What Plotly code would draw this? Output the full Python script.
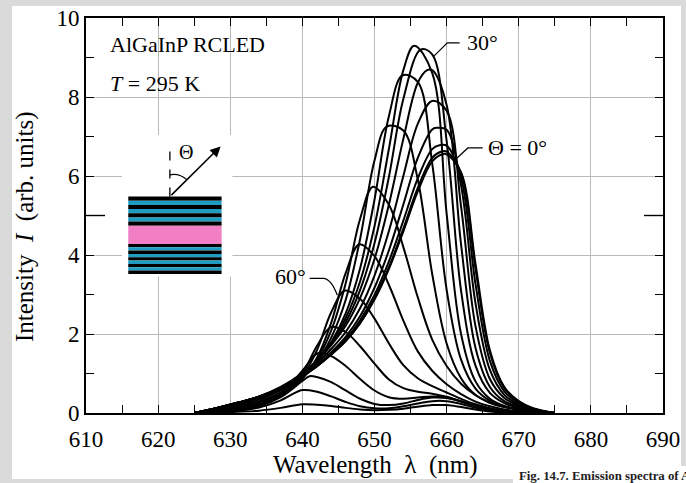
import plotly.graph_objects as go

# ---------------- data ----------------
wavelength_grid = [625, 628, 631, 634, 637, 640, 642, 644, 646, 648, 650, 652,
                   654, 656, 658, 660, 662, 664, 666, 668, 670, 672, 675]

angles = [0, 5, 10, 15, 20, 25, 30, 35, 40, 45, 50, 55, 60, 65, 70, 75, 80, 85]

peak_wavelength = [659.4, 659.3, 659.0, 658.6, 658.0, 657.3, 656.4, 655.5, 653.9,
                   651.7, 649.8, 647.9, 645.9, 644.0, 642.2, 641.0, 640.0, 640.0]
peak_intensity = [6.55, 6.62, 6.78, 7.22, 7.90, 8.68, 9.20, 9.30, 8.55,
                  7.25, 5.73, 4.27, 3.10, 2.18, 1.52, 0.93, 0.58, 0.22]

intensity_00 = [0, 0.12, 0.26, 0.41, 0.63, 0.93, 1.18, 1.48, 1.82, 2.27, 2.87, 3.65, 4.60, 5.61, 6.37, 6.55, 6.09, 3.78, 1.59, 0.66, 0.30, 0.12, 0]
intensity_05 = [0, 0.12, 0.26, 0.41, 0.63, 0.93, 1.18, 1.48, 1.82, 2.28, 2.90, 3.69, 4.67, 5.70, 6.46, 6.62, 6.08, 3.65, 1.52, 0.63, 0.29, 0.11, 0]
intensity_10 = [0, 0.12, 0.26, 0.41, 0.63, 0.94, 1.19, 1.50, 1.86, 2.35, 2.99, 3.84, 4.87, 5.94, 6.68, 6.77, 5.95, 3.27, 1.32, 0.55, 0.26, 0.10, 0]
intensity_15 = [0, 0.12, 0.25, 0.41, 0.64, 0.95, 1.21, 1.54, 1.93, 2.45, 3.17, 4.12, 5.28, 6.46, 7.18, 7.17, 5.77, 2.78, 1.09, 0.46, 0.22, 0.09, 0]
intensity_20 = [0, 0.12, 0.26, 0.41, 0.65, 0.98, 1.26, 1.62, 2.05, 2.65, 3.48, 4.61, 6.00, 7.32, 7.90, 7.65, 5.23, 2.20, 0.86, 0.38, 0.19, 0.08, 0]
intensity_25 = [0, 0.12, 0.26, 0.42, 0.66, 1.01, 1.32, 1.72, 2.21, 2.91, 3.90, 5.28, 6.94, 8.36, 8.68, 7.80, 4.27, 1.65, 0.66, 0.30, 0.16, 0.07, 0]
intensity_30 = [0, 0.11, 0.24, 0.40, 0.64, 1.00, 1.32, 1.75, 2.30, 3.11, 4.30, 5.98, 7.95, 9.15, 9.08, 6.89, 3.10, 1.20, 0.51, 0.25, 0.13, 0.06, 0]
intensity_35 = [0, 0.10, 0.23, 0.38, 0.62, 0.99, 1.32, 1.78, 2.40, 3.33, 4.73, 6.69, 8.68, 9.30, 8.61, 5.05, 2.00, 0.80, 0.36, 0.18, 0.10, 0.05, 0]
intensity_40 = [0, 0.09, 0.20, 0.34, 0.57, 0.93, 1.29, 1.79, 2.52, 3.66, 5.40, 7.52, 8.55, 8.38, 6.32, 3.12, 1.35, 0.62, 0.31, 0.17, 0.10, 0.05, 0]
intensity_45 = [0, 0.07, 0.17, 0.30, 0.52, 0.89, 1.29, 1.91, 2.86, 4.40, 6.39, 7.24, 7.15, 5.91, 3.52, 1.76, 0.88, 0.46, 0.26, 0.15, 0.09, 0.04, 0]
intensity_50 = [0, 0.06, 0.15, 0.27, 0.48, 0.88, 1.34, 2.09, 3.28, 4.91, 5.72, 5.27, 4.20, 2.93, 1.86, 1.19, 0.74, 0.45, 0.26, 0.15, 0.09, 0.04, 0]
intensity_55 = [0, 0.05, 0.12, 0.23, 0.44, 0.87, 1.39, 2.29, 3.54, 4.26, 3.97, 3.24, 2.34, 1.56, 1.07, 0.73, 0.48, 0.29, 0.17, 0.09, 0.05, 0.02, 0]
intensity_60 = [0, 0.04, 0.11, 0.21, 0.43, 0.93, 1.58, 2.55, 3.10, 2.89, 2.39, 1.76, 1.21, 0.88, 0.68, 0.52, 0.36, 0.22, 0.12, 0.06, 0.03, 0.02, 0]
intensity_65 = [0, 0.04, 0.09, 0.20, 0.43, 1.00, 1.69, 2.18, 2.05, 1.69, 1.25, 0.85, 0.63, 0.54, 0.49, 0.41, 0.30, 0.18, 0.09, 0.04, 0.02, 0.01, 0]
intensity_70 = [0, 0.03, 0.09, 0.19, 0.45, 1.07, 1.52, 1.44, 1.19, 0.86, 0.57, 0.40, 0.36, 0.39, 0.42, 0.39, 0.29, 0.17, 0.08, 0.03, 0.01, 0.0, 0]
intensity_75 = [0, 0.03, 0.07, 0.17, 0.40, 0.81, 0.91, 0.78, 0.57, 0.36, 0.23, 0.20, 0.24, 0.33, 0.39, 0.38, 0.29, 0.17, 0.08, 0.03, 0.01, 0.0, 0]
intensity_80 = [0, 0.02, 0.06, 0.14, 0.32, 0.58, 0.54, 0.42, 0.28, 0.17, 0.12, 0.12, 0.17, 0.24, 0.30, 0.30, 0.23, 0.13, 0.06, 0.02, 0.01, 0.0, 0]
intensity_85 = [0, 0.01, 0.03, 0.06, 0.13, 0.22, 0.21, 0.18, 0.13, 0.09, 0.07, 0.08, 0.11, 0.16, 0.20, 0.20, 0.15, 0.09, 0.04, 0.01, 0.0, 0.0, 0]

x_ticks = [610, 620, 630, 640, 650, 660, 670, 680, 690]
y_ticks = [0, 2, 4, 6, 8, 10]

curves = [intensity_00, intensity_05, intensity_10, intensity_15, intensity_20,
          intensity_25, intensity_30, intensity_35, intensity_40, intensity_45,
          intensity_50, intensity_55, intensity_60, intensity_65, intensity_70,
          intensity_75, intensity_80, intensity_85]

SERIF = "Liberation Serif, Times New Roman, serif"

fig = go.Figure()

for ang, pw, pi, vals in zip(angles, peak_wavelength, peak_intensity, curves):
    pts = [(g, v) for g, v in zip(wavelength_grid, vals) if abs(g - pw) >= 0.55]
    pts.append((pw, pi))
    pts.sort()
    xs = [p[0] for p in pts]
    ys = [p[1] for p in pts]
    fig.add_trace(go.Scatter(x=xs, y=ys, mode="lines", name=f"{ang}°",
                             line=dict(color="black", width=2.0, shape="spline", smoothing=1.0),
                             showlegend=False, hoverinfo="skip"))

# pixel -> paper helpers (plot area: x 86..663, y 18..413)
L, R, T, B = 86, 663, 18, 413
def px(xp):
    return (xp - L) / (R - L)
def py(yp):
    return (B - yp) / (B - T)

shapes = []
# white page panels on grey background
shapes.append(dict(type="rect", xref="paper", yref="paper", x0=px(12), x1=px(681), y0=py(479), y1=py(6),
                   fillcolor="white", line=dict(width=0), layer="below"))
shapes.append(dict(type="rect", xref="paper", yref="paper", x0=px(513), x1=px(700), y0=py(490), y1=py(466),
                   fillcolor="white", line=dict(width=0), layer="below"))

# longer ticks at y = 5
shapes.append(dict(type="line", xref="paper", yref="y", x0=0, x1=19 / (R - L), y0=5, y1=5,
                   line=dict(color="black", width=1.4), layer="above"))
shapes.append(dict(type="line", xref="paper", yref="y", x0=1 - 19 / (R - L), x1=1, y0=5, y1=5,
                   line=dict(color="black", width=1.4), layer="above"))

# inset: white backing box
shapes.append(dict(type="rect", xref="x", yref="y", x0=615.0, x1=630.3, y0=3.45, y1=7.04,
                   fillcolor="white", line=dict(width=0), layer="above"))
# layered structure
x0s, x1s = 615.86, 628.80
top_hi, top_lo = 5.48, 4.74
bot_hi, bot_lo = 4.28, 3.52
cyan = "#1e9cc2"
pink = "#f27fc3"
n_top = 7
h = (top_hi - top_lo) / n_top
for i in range(n_top):
    shapes.append(dict(type="rect", xref="x", yref="y", x0=x0s, x1=x1s,
                       y0=top_hi - (i + 1) * h, y1=top_hi - i * h,
                       fillcolor="black" if i % 2 == 0 else cyan, line=dict(width=0), layer="above"))
shapes.append(dict(type="rect", xref="x", yref="y", x0=x0s, x1=x1s, y0=bot_hi, y1=top_lo,
                   fillcolor=pink, line=dict(width=0), layer="above"))
n_bot = 9
h = (bot_hi - bot_lo) / n_bot
for i in range(n_bot):
    shapes.append(dict(type="rect", xref="x", yref="y", x0=x0s, x1=x1s,
                       y0=bot_hi - (i + 1) * h, y1=bot_hi - i * h,
                       fillcolor="black" if i % 2 == 0 else cyan, line=dict(width=0), layer="above"))
# dashed normal and angle arc
shapes.append(dict(type="line", xref="x", yref="y", x0=621.63, x1=621.63, y0=5.48, y1=6.66,
                   line=dict(color="black", width=1.3, dash="dash"), layer="above"))
shapes.append(dict(type="path", xref="x", yref="y", path="M 621.63,6.03 Q 622.9,6.08 624.03,5.90",
                   line=dict(color="black", width=1.2), layer="above"))

# leader lines for the labels
shapes.append(dict(type="path", xref="x", yref="y", path="M 661.8,9.37 L 660.1,9.37 L 658.2,9.03",
                   line=dict(color="black", width=1.2), layer="above"))
shapes.append(dict(type="path", xref="x", yref="y", path="M 665.0,6.71 L 662.95,6.71 L 661.1,6.40",
                   line=dict(color="black", width=1.2), layer="above"))
shapes.append(dict(type="path", xref="x", yref="y", path="M 641.0,3.41 L 642.9,3.41 Q 644.0,3.40 644.85,2.98",
                   line=dict(color="black", width=1.2), layer="above"))

annotations = []
# arrow of the inset
annotations.append(dict(x=628.66, y=6.75, ax=621.63, ay=5.48, xref="x", yref="y", axref="x", ayref="y",
                        text="", showarrow=True, arrowhead=2, arrowsize=1.3, arrowwidth=1.6, arrowcolor="black"))
annotations.append(dict(x=623.85, y=6.6, xref="x", yref="y", text="Θ", showarrow=False,
                        font=dict(family=SERIF, size=20, color="black")))
# text labels
txt_font = dict(family=SERIF, size=22, color="black")
annotations.append(dict(x=613.1, y=9.32, xref="x", yref="y", text="AlGaInP RCLED", showarrow=False,
                        xanchor="left", yanchor="middle", font=txt_font))
annotations.append(dict(x=613.1, y=8.34, xref="x", yref="y", text="<i>T</i> = 295 K", showarrow=False,
                        xanchor="left", yanchor="middle", font=txt_font))
annotations.append(dict(x=662.5, y=9.37, xref="x", yref="y", text="30°", showarrow=False,
                        xanchor="left", yanchor="middle", font=txt_font))
annotations.append(dict(x=665.4, y=6.71, xref="x", yref="y", text="Θ = 0°", showarrow=False,
                        xanchor="left", yanchor="middle", font=txt_font))
annotations.append(dict(x=640.8, y=3.45, xref="x", yref="y", text="60°", showarrow=False,
                        xanchor="right", yanchor="middle", font=txt_font))
# axis titles
annotations.append(dict(x=px(375), y=py(465), xref="paper", yref="paper",
                        text="Wavelength\u00a0\u00a0λ\u00a0\u00a0(nm)", showarrow=False,
                        xanchor="center", yanchor="middle", font=dict(family=SERIF, size=25, color="black")))
annotations.append(dict(x=px(25), y=py(227), xref="paper", yref="paper",
                        text="Intensity\u00a0\u00a0<i>I</i>\u00a0\u00a0(arb.\u00a0units)", showarrow=False,
                        textangle=-90, xanchor="center", yanchor="middle",
                        font=dict(family=SERIF, size=25, color="black")))
# caption (cut by the right edge, as in the reference)
annotations.append(dict(x=px(517), y=py(476), xref="paper", yref="paper",
                        text="<b>Fig. 14.7. Emission spectra of AlGaInP RCLED</b>", showarrow=False,
                        xanchor="left", yanchor="middle", font=dict(family=SERIF, size=12.8, color="#222222")))

tick_font = dict(family=SERIF, size=23, color="black")
fig.update_layout(
    width=686, height=483,
    margin=dict(l=L, r=686 - R, t=T, b=483 - B, autoexpand=False),
    paper_bgcolor="#dadada",
    plot_bgcolor="white",
    showlegend=False,
    hovermode=False,
    xaxis=dict(range=[610, 690], tickmode="array", tickvals=x_ticks, ticktext=[str(v) for v in x_ticks],
               ticks="inside", ticklen=8, tickwidth=1.4, tickcolor="black", automargin=False,
               showline=True, linecolor="black", linewidth=1.8, mirror="ticks",
               showgrid=True, gridcolor="#b9b9b9", gridwidth=1, zeroline=False,
               tickfont=tick_font, ticklabelstandoff=4,
               minor=dict(dtick=5, tick0=610, ticks="inside", ticklen=8, tickwidth=1.4,
                          tickcolor="black", showgrid=False)),
    yaxis=dict(range=[0, 10], tickmode="array", tickvals=y_ticks, ticktext=[str(v) for v in y_ticks],
               ticks="inside", ticklen=8, tickwidth=1.4, tickcolor="black", automargin=False,
               showline=True, linecolor="black", linewidth=1.8, mirror="ticks",
               showgrid=True, gridcolor="#b9b9b9", gridwidth=1, zeroline=False,
               tickfont=tick_font,
               minor=dict(dtick=1, tick0=0, ticks="inside", ticklen=8, tickwidth=1.4,
                          tickcolor="black", showgrid=False)),
    shapes=shapes,
    annotations=annotations,
)

fig.write_html("out.html", config={"displayModeBar": False},
               post_script="document.body.style.margin='0';document.body.style.overflow='hidden';")
